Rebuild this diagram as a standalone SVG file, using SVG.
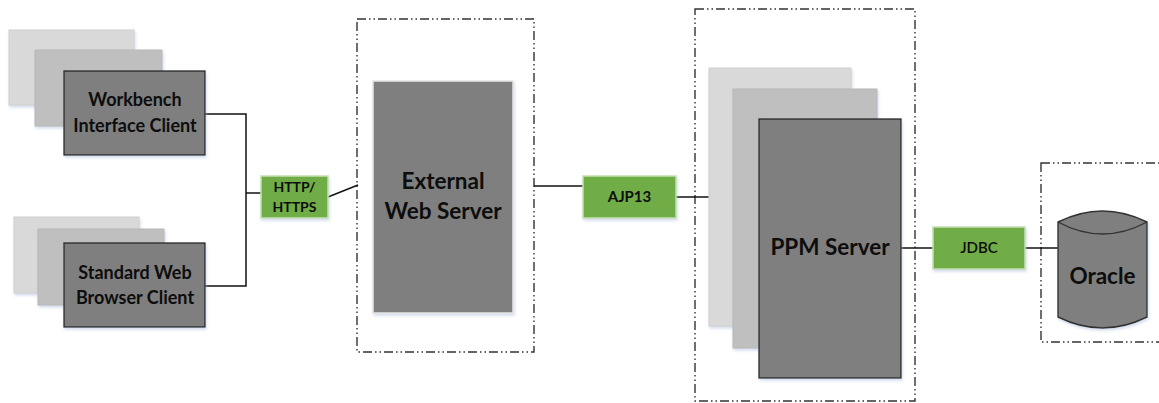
<svg xmlns="http://www.w3.org/2000/svg" width="1159" height="403" viewBox="0 0 1159 403">
<defs>
<filter id="sh" x="-10%" y="-10%" width="130%" height="130%">
<feDropShadow dx="1" dy="2" stdDeviation="1.5" flood-color="#9db4d6" flood-opacity="0.45"/>
</filter>
<style>
.bg{fill:#ffffff}
.l1{fill:#d9d9d9;stroke:#d0d0d0;stroke-width:1}
.l2{fill:#bfbfbf;stroke:#b8b8b8;stroke-width:1}
.front{fill:#7f7f7f;stroke:#262626;stroke-width:1.3}
.srv{fill:#7f7f7f;stroke:#e6e6e6;stroke-width:1.5}
.grn{fill:#70ad47;stroke:#c5dfb4;stroke-width:1.5}
.zone{fill:none;stroke:#333333;stroke-width:1.4;stroke-dasharray:9 3 1.5 3 1.5 3}
.wire{fill:none;stroke:#111111;stroke-width:1.5}
.t{font-family:Lato,"Liberation Sans",sans-serif;font-weight:bold;fill:#0d0d0d;text-anchor:middle}
.t18{font-size:18px}
.t22{font-size:22.5px}
.t14{font-size:14px}
.t15{font-size:15px}
.tr{font-family:Lato,"Liberation Sans",sans-serif;font-weight:600;fill:#0d0d0d;text-anchor:middle;font-size:15px}
</style>
</defs>
<rect class="bg" x="0" y="0" width="1159" height="403"/>

<g id="zones">
<rect id="zone-web" class="zone" x="357" y="19" width="177" height="333"/>
<rect id="zone-ppm" class="zone" x="695" y="9" width="220" height="392"/>
<rect id="zone-db" class="zone" x="1041" y="163" width="130" height="179"/>
</g>

<g id="connectors">
<polyline class="wire" points="205,114 246,114 246,286 205,286"/>
<line class="wire" x1="246" y1="193" x2="261" y2="193"/>
<line class="wire" x1="328" y1="197" x2="358" y2="185"/>
<line class="wire" x1="534" y1="186" x2="583" y2="186"/>
<line class="wire" x1="676" y1="197" x2="710" y2="197"/>
<line class="wire" x1="901" y1="248" x2="933" y2="248"/>
<line class="wire" x1="1025" y1="248" x2="1058" y2="248"/>
</g>

<g id="workbench-client">
<rect class="l1" x="9" y="30" width="125" height="75" filter="url(#sh)"/>
<rect class="l2" x="35" y="50" width="127" height="76" filter="url(#sh)"/>
<rect class="front" x="64" y="71" width="141" height="84" filter="url(#sh)"/>
<text class="t t18" x="135" y="106">Workbench</text>
<text class="t t18" x="135" y="132">Interface Client</text>
</g>

<g id="browser-client">
<rect class="l1" x="14" y="217" width="125" height="76" filter="url(#sh)"/>
<rect class="l2" x="38" y="229" width="126" height="76" filter="url(#sh)"/>
<rect class="front" x="64" y="243" width="141" height="84" filter="url(#sh)"/>
<text class="t t18" x="135" y="279">Standard Web</text>
<text class="t t18" x="135" y="304">Browser Client</text>
</g>

<g id="http-label">
<rect class="grn" x="261" y="176" width="67" height="42" filter="url(#sh)"/>
<text class="t t14" x="294.5" y="192">HTTP/</text>
<text class="t t14" x="294.5" y="212">HTTPS</text>
</g>

<g id="external-web-server">
<rect class="srv" x="373" y="81" width="140" height="232" filter="url(#sh)"/>
<text class="t t22" x="443" y="189">External</text>
<text class="t t22" x="443" y="219">Web Server</text>
</g>

<g id="ajp13-label">
<rect class="grn" x="583" y="176" width="93" height="42" filter="url(#sh)"/>
<text class="t t15" x="629.5" y="202">AJP13</text>
</g>

<g id="ppm-server">
<rect class="l1" x="709" y="68" width="142" height="258" filter="url(#sh)"/>
<rect class="l2" x="733" y="89" width="144" height="259" filter="url(#sh)"/>
<rect class="front" x="759" y="119" width="142" height="259" filter="url(#sh)"/>
<text class="t t22" x="830" y="255">PPM Server</text>
</g>

<g id="jdbc-label">
<rect class="grn" x="933" y="227" width="92" height="42" filter="url(#sh)"/>
<text class="tr" x="979" y="253">JDBC</text>
</g>

<g id="oracle">
<path d="M1058,222 Q1102.5,200 1147,222 L1147,317 Q1102.5,339 1058,317 Z" fill="#7f7f7f" stroke="#333333" stroke-width="1.4" filter="url(#sh)"/>
<path d="M1058,222 Q1102.5,246 1147,222" fill="none" stroke="#333333" stroke-width="1.4"/>
<text class="t t22" x="1102.5" y="284">Oracle</text>
</g>
</svg>
